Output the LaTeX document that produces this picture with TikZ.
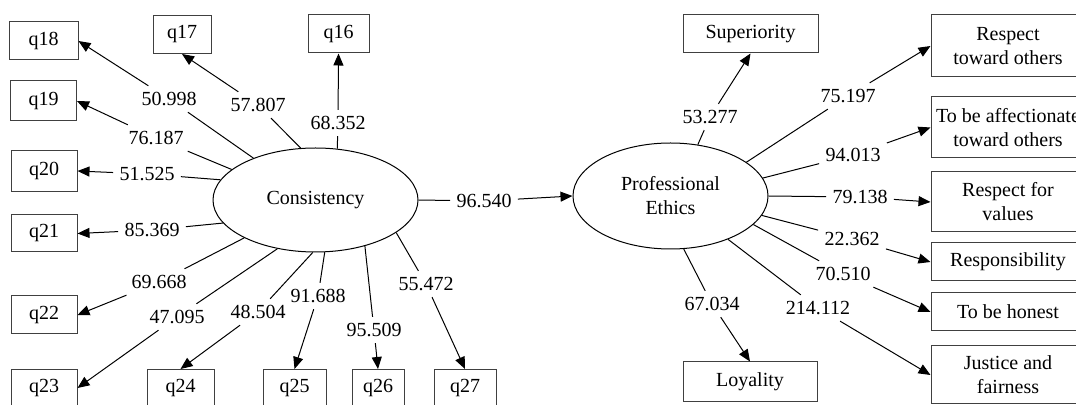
\documentclass[tikz,border=0pt]{standalone}
\usepackage{fontspec}
\setmainfont{Liberation Serif}
\usetikzlibrary{arrows.meta,shapes.geometric}

\tikzset{
	latent/.style={draw,ellipse,inner sep=0pt,line width=0.5pt},
	obs/.style={draw=black!75,line width=0.5pt,minimum width=33pt,minimum height=19pt,inner sep=2pt},
	item/.style={obs,minimum width=77pt,align=center},
	coef/.style={inner sep=3pt},
	link/.style={line width=0.5pt},
	load/.style={line width=0.5pt,-{Triangle[length=6pt,width=5pt]}}
}

\begin{document}
\begin{tikzpicture}[x=0.5pt,y=-0.5pt]
	\useasboundingbox (0,0) rectangle (1076,405);
	\clip (0,0) rectangle (1076,405);
	
	%LATENT VARIABLES
	\node[latent,minimum width=102.5pt,minimum height=52pt] (cons) at (315.5,200) {Consistency};
	\node[latent,minimum width=97.5pt,minimum height=53pt,align=center] (ethics) at (670.5,196) {Professional\\Ethics};
	
	%ITEMS OF CONSISTENCY
	\node[obs,minimum width=30.5pt] (q16) at (338.5,34) {q16};
	\node[obs,minimum width=29pt] (q17) at (182,34.5) {q17};
	\node[obs,minimum width=34.5pt] (q18) at (43.5,41) {q18};
	\node[obs,minimum height=20pt] (q19) at (43.5,101) {q19};
	\node[obs,minimum height=20.5pt] (q20) at (44,171) {q20};
	\node[obs,minimum height=18.5pt] (q21) at (44,233.5) {q21};
	\node[obs] (q22) at (44,315) {q22};
	\node[obs,minimum height=18.5pt] (q23) at (44,388) {q23};
	\node[obs,minimum width=33.5pt,minimum height=18.5pt] (q24) at (180.5,388) {q24};
	\node[obs,minimum width=31.5pt,minimum height=18.5pt] (q25) at (294.5,388) {q25};
	\node[obs,minimum width=26pt,minimum height=18.5pt] (q26) at (378,388) {q26};
	\node[obs,minimum width=31pt,minimum height=18.5pt] (q27) at (465,388) {q27};
	
	%ITEMS OF PROFESSIONAL ETHICS
	\node[obs,minimum width=67.5pt] (sup) at (750.5,34) {Superiority};
	\node[obs,minimum width=67pt,minimum height=20pt] (loyal) at (750,382) {Loyality};
	\node[item,minimum height=31pt] (resp) at (1008,46) {Respect\\toward others};
	\node[item,minimum height=30.5pt] (affect) at (1008,127.5) {To be affectionate\\toward others};
	\node[item,minimum height=30pt] (values) at (1008,202) {Respect for\\values};
	\node[item] (respons) at (1008,262) {Responsibility};
	\node[item] (honest) at (1008,312) {To be honest};
	\node[item,minimum height=29pt] (justice) at (1008,375) {Justice and\\fairness};
	
	%COEFFICIENTS
	\node[coef] (c16) at (338,123) {68.352};
	\node[coef] (c17) at (258,105) {57.807};
	\node[coef] (c18) at (169,99) {50.998};
	\node[coef] (c19) at (156,138) {76.187};
	\node[coef] (c20) at (147,174) {51.525};
	\node[coef] (c21) at (152,230) {85.369};
	\node[coef] (c22) at (159,282) {69.668};
	\node[coef] (c23) at (177,317) {47.095};
	\node[coef] (c24) at (258,312) {48.504};
	\node[coef] (c25) at (318,296) {91.688};
	\node[coef] (c26) at (374,330) {95.509};
	\node[coef] (c27) at (426,284) {55.472};
	\node[coef] (cpath) at (484,201) {96.540};
	%
	\node[coef] (e1) at (710,117) {53.277};
	\node[coef] (e2) at (848,96) {75.197};
	\node[coef] (e3) at (853,155) {94.013};
	\node[coef] (e4) at (860,197) {79.138};
	\node[coef] (e5) at (852,239) {22.362};
	\node[coef] (e6) at (843,274) {70.510};
	\node[coef] (e7) at (818,308) {214.112};
	\node[coef] (e8) at (712,304) {67.034};
	
	%LOADINGS OF CONSISTENCY
	\draw[link] (cons.67) -- (c16);   \draw[load] (c16) -- (q16.south);
	\draw[link] (cons.106) -- (c17);  \draw[load] (c17) -- (q17.south);
	\draw[link] (cons.146) -- (c18);  \draw[load] (c18) -- (q18.east);
	\draw[link] (cons.160) -- (c19);  \draw[load] (c19) -- (q19.east);
	\draw[link] (cons.168) -- (c20);  \draw[load] (c20) -- (q20.east);
	\draw[link] (cons.194) -- (c21);  \draw[load] (c21) -- (q21.east);
	\draw[link] (cons.208) -- (c22);  \draw[load] (c22) -- (q22.east);
	\draw[link] (cons.232) -- (c23);  \draw[load] (c23) -- (q23.east);
	\draw[link] (cons.267) -- (c24);  \draw[load] (c24) -- (q24.north);
	\draw[link] (cons.280) -- (c25);  \draw[load] (c25) -- (q25.north);
	\draw[link] (cons.317) -- (c26);  \draw[load] (c26) -- (q26.north);
	\draw[link] (cons.338) -- (c27);  \draw[load] (c27) -- (q27.north);
	
	%PATH
	\draw[link] (cons.east) -- (cpath);
	\draw[load] (cpath) -- (ethics.west);
	
	%LOADINGS OF PROFESSIONAL ETHICS
	\draw[link] (ethics.62) -- (e1);   \draw[load] (e1) -- (sup.south);
	\draw[link] (ethics.24) -- (e2);   \draw[load] (e2) -- (resp.west);
	\draw[link] (ethics.11) -- (e3);   \draw[load] (e3) -- (affect.west);
	\draw[link] (ethics.east) -- (e4); \draw[load] (e4) -- (values.west);
	\draw[link] (ethics.348) -- (e5);  \draw[load] (e5) -- (respons.west);
	\draw[link] (ethics.341) -- (e6);  \draw[load] (e6) -- (honest.west);
	\draw[link] (ethics.323) -- (e7);  \draw[load] (e7) -- (justice.west);
	\draw[link] (ethics.284) -- (e8);  \draw[load] (e8) -- (loyal.north);
\end{tikzpicture}
\end{document}
